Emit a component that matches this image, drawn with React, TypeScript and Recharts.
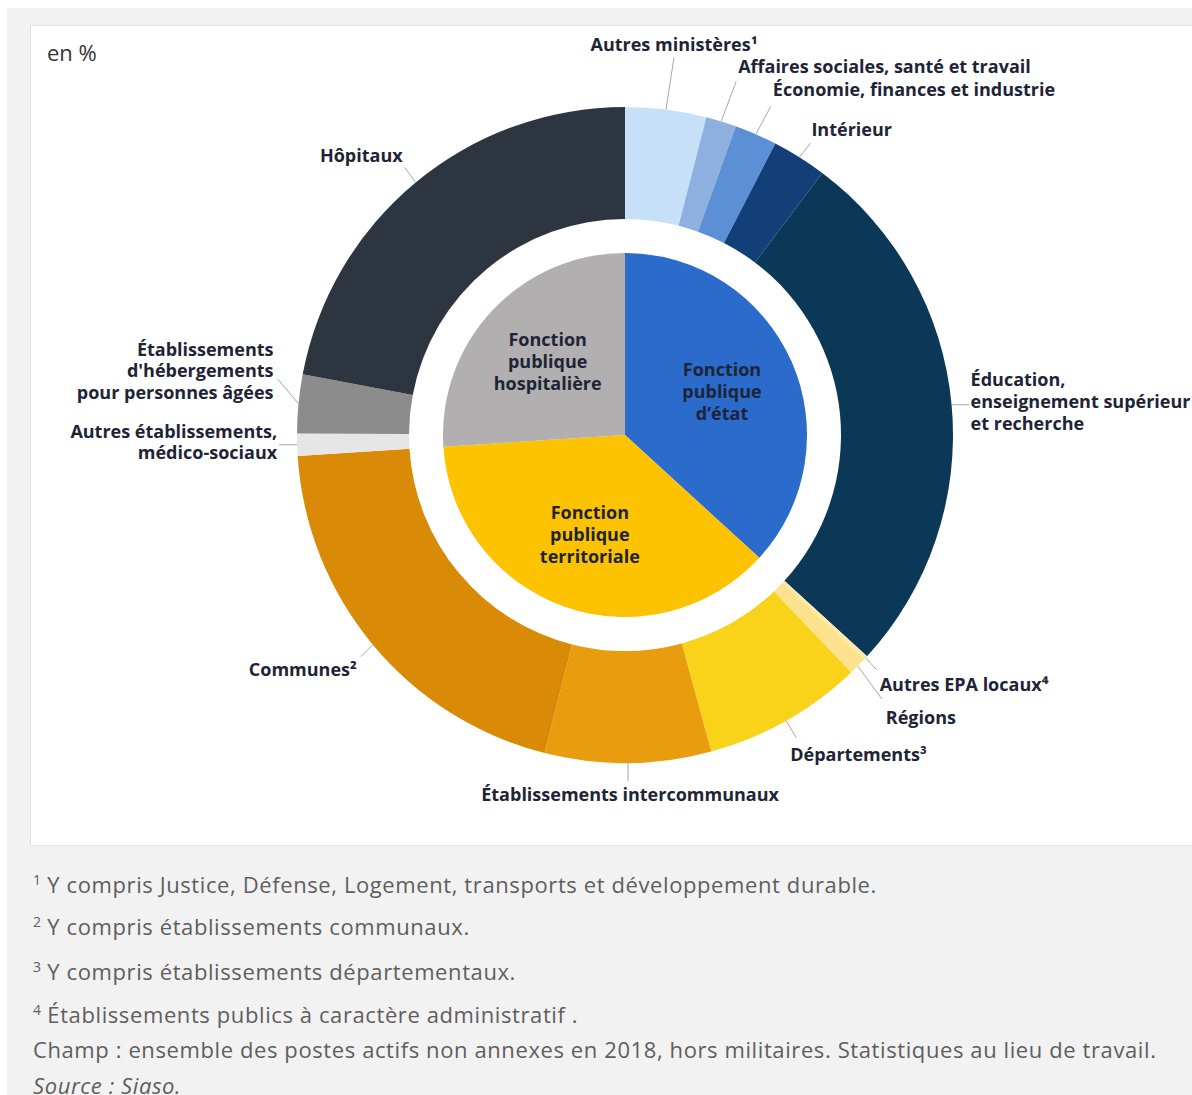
import React from "react";
import { PieChart, Pie, Cell } from "recharts";

// ---- Data ----
const groupNames = ["Fonction publique d’état", "Fonction publique territoriale", "Fonction publique hospitalière"];
const groupLines = [
  ["Fonction", "publique", "d’état"],
  ["Fonction", "publique", "territoriale"],
  ["Fonction", "publique", "hospitalière"],
];
const groupValues = [36.9, 37.3, 26.1];
const groupColors = ["#2A6BCB", "#FDC200", "#B1AFB0"];

const detailNames = [
  "Autres ministères¹",
  "Affaires sociales, santé et travail",
  "Économie, finances et industrie",
  "Intérieur",
  "Éducation, enseignement supérieur et recherche",
  "Autres EPA locaux⁴",
  "Régions",
  "Départements³",
  "Établissements intercommunaux",
  "Communes²",
  "Autres établissements, médico-sociaux",
  "Établissements d'hébergements pour personnes âgées",
  "Hôpitaux",
];
const detailLines = [
  ["Autres ministères¹"],
  ["Affaires sociales, santé et travail"],
  ["Économie, finances et industrie"],
  ["Intérieur"],
  ["Éducation,", "enseignement supérieur", "et recherche"],
  ["Autres EPA locaux⁴"],
  ["Régions"],
  ["Départements³"],
  ["Établissements intercommunaux"],
  ["Communes²"],
  ["Autres établissements,", "médico-sociaux"],
  ["Établissements", "d'hébergements", "pour personnes âgées"],
  ["Hôpitaux"],
];
const detailValues = [4.0, 1.5, 2.1, 2.7, 26.6, 0.2, 0.9, 7.9, 8.2, 20.1, 1.1, 2.9, 22.1];
const detailColors = [
  "#C6E0FA", "#8EB0E0", "#5B8FD6", "#123F78", "#0C3858",
  "#FCE9A8", "#FDE28E", "#F8D31A", "#E89D0E", "#D98A06",
  "#E6E6E6", "#8C8C8C", "#2D3540",
];

const footnotes = [
  { sup: "1", text: " Y compris Justice, Défense, Logement, transports et développement durable." },
  { sup: "2", text: " Y compris établissements communaux." },
  { sup: "3", text: " Y compris établissements départementaux." },
  { sup: "4", text: " Établissements publics à caractère administratif ." },
];
const champText = "Champ : ensemble des postes actifs non annexes en 2018, hors militaires. Statistiques au lieu de travail.";
const sourceText = "Source : Siaso.";

// ---- Label layout (leader line end offset, text offset, anchor, line height) ----
type LabelLayout = { ldx: number; ldy: number; tdx: number; tdy: number; anchor: "start" | "middle" | "end"; lh: number };
const labelLayout: LabelLayout[] = [
  { ldx: 8, ldy: -52, tdx: 0, tdy: -7, anchor: "middle", lh: 22 },
  { ldx: 15, ldy: -40, tdx: 2, tdy: -8, anchor: "start", lh: 22 },
  { ldx: 15, ldy: -28, tdx: 2, tdy: -10, anchor: "start", lh: 22 },
  { ldx: 11, ldy: -14, tdx: 1, tdy: -7, anchor: "start", lh: 22 },
  { ldx: 18, ldy: 0, tdx: 1, tdy: -19, anchor: "start", lh: 22 },
  { ldx: 11, ldy: 12, tdx: 3, tdy: 21, anchor: "start", lh: 22 },
  { ldx: 24, ldy: 33, tdx: 4, tdy: 25, anchor: "start", lh: 22 },
  { ldx: 10, ldy: 17, tdx: -6, tdy: 23, anchor: "start", lh: 22 },
  { ldx: 0, ldy: 18, tdx: 2, tdy: 20, anchor: "middle", lh: 22 },
  { ldx: -12, ldy: 12, tdx: -4, tdy: 19, anchor: "end", lh: 22 },
  { ldx: -18, ldy: 0, tdx: -2, tdy: -7, anchor: "end", lh: 21 },
  { ldx: -21, ldy: -25, tdx: -4, tdy: -23, anchor: "end", lh: 21.5 },
  { ldx: -11, ldy: -15, tdx: -2, tdy: -5, anchor: "end", lh: 22 },
];

const groupData = groupNames.map((name, i) => ({ name, value: groupValues[i] }));
const detailData = detailNames.map((name, i) => ({ name, value: detailValues[i] }));

const RAD = Math.PI / 180;
const LABEL_FONT = "'Open Sans', 'DejaVu Sans', sans-serif";
const LABEL_COLOR = "#1E2436";

const renderOuterLabel = (props: any) => {
  const { cx, cy, midAngle, outerRadius, index } = props;
  const lay = labelLayout[index];
  const sx = cx + outerRadius * Math.cos(-midAngle * RAD);
  const sy = cy + outerRadius * Math.sin(-midAngle * RAD);
  const ex = sx + lay.ldx;
  const ey = sy + lay.ldy;
  const lines = detailLines[index];
  return (
    <g key={`ol-${index}`}>
      <line x1={sx} y1={sy} x2={ex} y2={ey} stroke="#A8A8A8" strokeWidth={1} />
      <text
        x={ex + lay.tdx}
        y={ey + lay.tdy}
        textAnchor={lay.anchor}
        fontFamily={LABEL_FONT}
        fontWeight={700}
        fontSize={18}
        fill={LABEL_COLOR}
      >
        {lines.map((l, k) => (
          <tspan key={k} x={ex + lay.tdx} dy={k === 0 ? 0 : lay.lh}>
            {l}
          </tspan>
        ))}
      </text>
    </g>
  );
};

const renderInnerLabel = (props: any) => {
  const { cx, cy, midAngle, index } = props;
  const r = 106;
  const x = cx + r * Math.cos(-midAngle * RAD);
  const y = cy + r * Math.sin(-midAngle * RAD);
  const lines = groupLines[index];
  return (
    <text
      key={`il-${index}`}
      x={x}
      y={y - 16}
      textAnchor="middle"
      fontFamily={LABEL_FONT}
      fontWeight={700}
      fontSize={18}
      fill={LABEL_COLOR}
    >
      {lines.map((l, k) => (
        <tspan key={k} x={x} dy={k === 0 ? 0 : 22}>
          {l}
        </tspan>
      ))}
    </text>
  );
};

const noteStyle: React.CSSProperties = {
  position: "absolute",
  left: 33,
  fontFamily: "'Open Sans', 'DejaVu Sans', sans-serif",
  fontSize: 22,
  letterSpacing: 0.6,
  color: "#5E5E5E",
  whiteSpace: "nowrap",
  lineHeight: "24px",
};

export default function App() {
  const noteTops = [868, 910, 955, 998];
  return (
    <div style={{ position: "absolute", left: 0, top: 0, width: 1192, height: 1095, overflow: "hidden", background: "#FFFFFF" }}>
      <div style={{ position: "absolute", left: 7, top: 8, width: 1185, height: 1087, background: "#F2F2F2" }} />
      <div
        style={{
          position: "absolute",
          left: 30,
          top: 25,
          width: 1200,
          height: 819,
          background: "#FFFFFF",
          border: "1px solid #E2E2E2",
        }}
      />
      <div
        style={{
          position: "absolute",
          left: 47,
          top: 40,
          fontFamily: "'Open Sans', 'DejaVu Sans', sans-serif",
          fontSize: 22,
          color: "#333333",
          lineHeight: "24px",
        }}
      >
        en %
      </div>
      <div style={{ position: "absolute", left: 0, top: 0 }}>
        <PieChart width={1192} height={850} margin={{ top: 0, right: 0, bottom: 0, left: 0 }}>
          <Pie
            data={groupData}
            dataKey="value"
            nameKey="name"
            cx={625}
            cy={435}
            outerRadius={182}
            startAngle={90}
            endAngle={-270}
            stroke="none"
            isAnimationActive={false}
            label={renderInnerLabel}
            labelLine={false}
          >
            {groupData.map((d, i) => (
              <Cell key={d.name} fill={groupColors[i]} />
            ))}
          </Pie>
          <Pie
            data={detailData}
            dataKey="value"
            nameKey="name"
            cx={625}
            cy={435}
            innerRadius={216}
            outerRadius={328}
            startAngle={90}
            endAngle={-270}
            stroke="none"
            isAnimationActive={false}
            label={renderOuterLabel}
            labelLine={false}
          >
            {detailData.map((d, i) => (
              <Cell key={d.name} fill={detailColors[i]} />
            ))}
          </Pie>
        </PieChart>
      </div>
      {footnotes.map((f, i) => (
        <div key={f.sup} style={{ ...noteStyle, top: noteTops[i] }}>
          <span style={{ fontSize: 14, verticalAlign: "8px", letterSpacing: 0 }}>{f.sup}</span>
          {f.text}
        </div>
      ))}
      <div style={{ ...noteStyle, top: 1037 }}>{champText}</div>
      <div style={{ ...noteStyle, top: 1073, fontStyle: "italic" }}>{sourceText}</div>
    </div>
  );
}
